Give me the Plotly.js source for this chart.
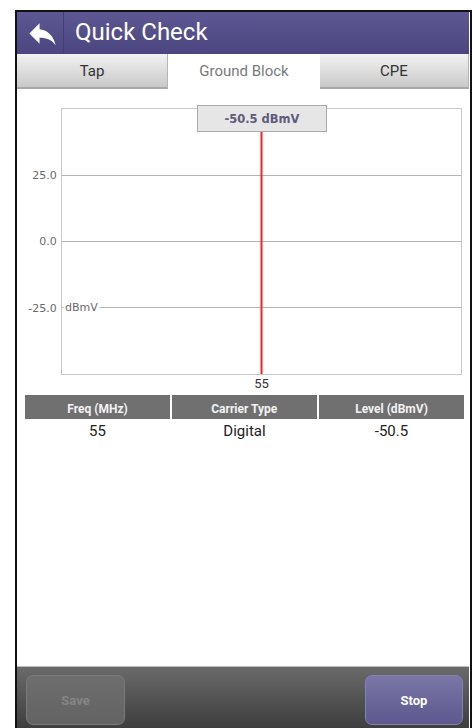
<!DOCTYPE html>
<html>
<head>
<meta charset="utf-8">
<script src="https://cdn.plot.ly/plotly-3.0.1.min.js"></script>
<style>
  html, body { margin:0; padding:0; background:#fff; width:472px; height:728px; overflow:hidden; font-family: Roboto, "Noto Sans", sans-serif; }
  .abs { position:absolute; box-sizing:border-box; }
  #frame { left:15px; top:10px; width:457px; height:730px; border:2px solid #111; border-bottom:none; }
  #header { left:17px; top:12px; width:452px; height:42px; background:linear-gradient(#5d5793,#4b467f); }
  #divider { left:63px; top:12px; width:1px; height:42px; background:#433e72; }
  #title { left:75px; top:13px; height:38px; line-height:38px; color:#fff; font-size:24px; }
  .tab { top:54px; height:35px; line-height:34px; text-align:center; font-size:15px; }
  .tab.off { background:linear-gradient(#f2f2f2,#c9c9c9); color:#333; border-bottom:2px solid #a8a8a8; border-right:1px solid #b5b5b5; }
  .tab.on { background:#fff; color:#7a7a7a; }
  #bar { left:17px; top:666px; width:452px; height:62px; background:linear-gradient(#6a6a6a,#3e3e3e); border-top:1px solid #bdbdbd; }
  .btn { top:675px; height:50px; line-height:50px; text-align:center; border-radius:7px; font-weight:bold; font-size:13px; }
  #save { left:26px; width:99px; background:linear-gradient(#6e6e6e,#636363); border:1px solid #7a7a7a; color:#858585; }
  #stop { left:365px; width:98px; background:linear-gradient(#7a76a6,#5d588e); border:1px solid #8580ad; color:#fff; }
  #plot { left:0; top:0; width:472px; height:728px; }
</style>
</head>
<body>
<div id="frame" class="abs"></div>
<div id="header" class="abs"></div>
<div id="divider" class="abs"></div>
<svg class="abs" style="left:25px;top:16px" width="35" height="35" viewBox="0 0 24 24"><path fill="#fff" d="M10 9V5l-7 7 7 7v-4.1c5 0 8.5 1.6 11 5.1-1-5-4-10-11-11z"/></svg>
<div id="title" class="abs">Quick Check</div>
<div id="tabs"></div>
<div id="bar" class="abs"></div>
<div id="save" class="abs btn">Save</div>
<div id="stop" class="abs btn">Stop</div>
<div id="plot" class="abs"></div>
<script>
// ---- data ----
const tabs = ['Tap', 'Ground Block', 'CPE'];
const activeTab = 'Ground Block';
const freqs = [55];
const carrierTypes = ['Digital'];
const levels = [-50.5];
const levelUnit = 'dBmV';
const yTickVals = [25, 0, -25];
const yTickText = ['25.0', '0.0', '-25.0'];
const xTickVals = [55];
const xTickText = ['55'];
const columns = ['Freq (MHz)', 'Carrier Type', 'Level (dBmV)'];

// ---- tabs ----
const tabX = [17, 168, 320, 469];
const tabsDiv = document.getElementById('tabs');
tabs.forEach((t, i) => {
  const d = document.createElement('div');
  d.className = 'abs tab ' + (t === activeTab ? 'on' : 'off');
  d.style.left = tabX[i] + 'px';
  d.style.width = (tabX[i + 1] - tabX[i]) + 'px';
  d.textContent = t;
  tabsDiv.appendChild(d);
});

// ---- chart ----
const W = 472, H = 728;
const px = x => x / W;
const py = y => 1 - y / H;

const plotTop = 109, plotBottom = 374, plotLeft = 62, plotRight = 461;
const domTop = py(plotTop), domBot = py(plotBottom);
const boxCenterY = 118.5, boxBottomY = 132;
const fracY = y => (plotBottom - y) / (plotBottom - plotTop);
const tableX = [px(24), px(465)];

const traces = [
  {
    type: 'scatter', mode: 'markers', x: freqs, y: levels,
    marker: { color: '#ff2020', size: 1 }, cliponaxis: true, hoverinfo: 'skip', showlegend: false
  },
  // column headings
  {
    type: 'table',
    domain: { x: tableX, y: [py(420), py(394)] },
    columnwidth: [1, 1, 1],
    header: {
      values: columns.map(c => '<b>' + c + '</b>'),
      fill: { color: '#707070' },
      line: { color: '#ffffff', width: 2 },
      font: { family: 'Roboto, sans-serif', size: 12, color: '#f2f2f2' },
      align: 'center', height: 26
    },
    cells: { values: [[], [], []], height: 1 }
  },
  // carrier rows
  {
    type: 'table',
    domain: { x: tableX, y: [py(460), py(417)] },
    columnwidth: [1, 1, 1],
    header: {
      values: [freqs.map(String), carrierTypes, levels.map(v => v.toFixed(1))].map(a => a[0]),
      fill: { color: 'rgba(0,0,0,0)' },
      line: { color: 'rgba(0,0,0,0)', width: 1 },
      font: { family: 'Roboto, sans-serif', size: 15, color: '#222' },
      align: 'center', height: 24
    },
    cells: {
      values: [freqs.slice(1).map(String), carrierTypes.slice(1), levels.slice(1).map(v => v.toFixed(1))],
      fill: { color: 'rgba(0,0,0,0)' },
      line: { color: 'rgba(0,0,0,0)', width: 1 },
      font: { family: 'Roboto, sans-serif', size: 15, color: '#222' },
      align: 'center', height: 24
    }
  }
];

const layout = {
  width: W, height: H,
  margin: { l: 0, r: 0, t: 0, b: 0 },
  paper_bgcolor: 'rgba(0,0,0,0)',
  plot_bgcolor: '#ffffff',
  showlegend: false,
  xaxis: {
    domain: [px(plotLeft), px(plotRight)],
    range: [freqs[0] - 1, freqs[0] + 1],
    tickvals: xTickVals, ticktext: xTickText,
    showgrid: false, zeroline: false,
    showline: true, mirror: true, linecolor: '#c9c9c9', linewidth: 1,
    ticks: '', ticklabelstandoff: -3,
    tickfont: { family: 'Roboto, sans-serif', size: 13, color: '#333' }
  },
  yaxis: {
    domain: [domBot, domTop],
    range: [-50, 50],
    tickvals: yTickVals, ticktext: yTickText,
    showgrid: true, gridcolor: '#b4b4b4', gridwidth: 1, zeroline: false,
    showline: true, mirror: true, linecolor: '#c9c9c9', linewidth: 1,
    ticks: '', ticklabelstandoff: 2,
    tickfont: { family: 'DejaVu Sans, sans-serif', size: 11, color: '#6a6a6a' }
  },
  shapes: [
    {
      type: 'line', xref: 'x', yref: 'y domain',
      x0: freqs[0], x1: freqs[0], y0: 0, y1: fracY(boxBottomY),
      line: { color: '#ff1f1f', width: 2 }
    }
  ],
  annotations: [
    {
      xref: 'x', yref: 'y domain', x: freqs[0], y: fracY(boxCenterY),
      xanchor: 'center', yanchor: 'middle',
      text: '<b>' + levels[0].toFixed(1) + ' ' + levelUnit + '</b>',
      showarrow: false, bgcolor: '#e6e6e6', bordercolor: '#a9a9a9', borderwidth: 1, borderpad: 1,
      width: 126, height: 23,
      font: { family: 'DejaVu Sans, sans-serif', size: 11.5, color: '#5e5b7c' }
    },
    {
      xref: 'x domain', yref: 'y', x: 0, y: yTickVals[2], xanchor: 'left', xshift: 1,
      text: levelUnit, showarrow: false, bgcolor: '#ffffff', borderpad: 1,
      font: { family: 'DejaVu Sans, sans-serif', size: 11, color: '#6a6a6a' }
    }
  ]
};

Plotly.newPlot('plot', traces, layout, { displayModeBar: false, staticPlot: true });
</script>
</body>
</html>
